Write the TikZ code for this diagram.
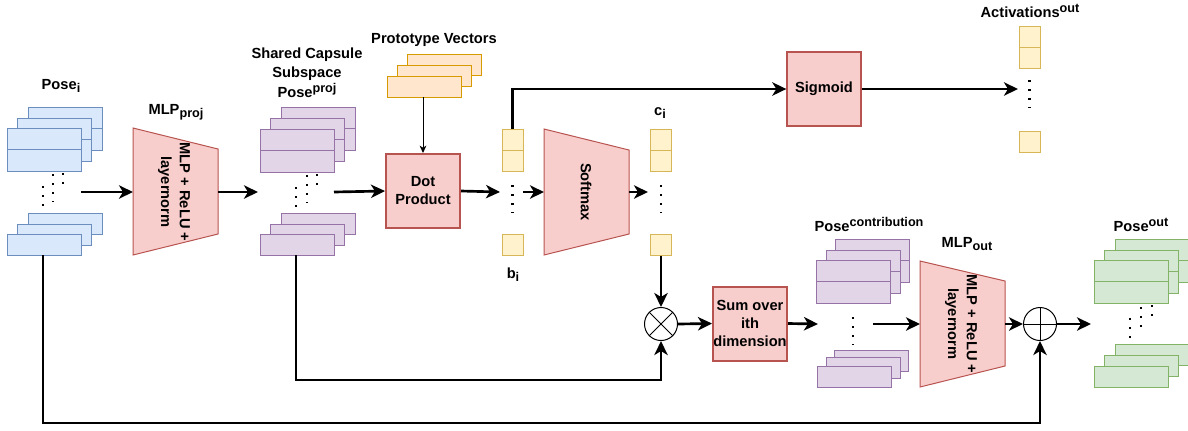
\documentclass[tikz,border=0pt]{standalone}
\usepackage{fontspec}
\setmainfont{Liberation Sans}
\usetikzlibrary{arrows.meta,calc}
\definecolor{bluef}{HTML}{DAE8FC}\definecolor{blued}{HTML}{6C8EBF}
\definecolor{purf}{HTML}{E1D5E7}\definecolor{purd}{HTML}{9673A6}
\definecolor{oraf}{HTML}{FFE6CC}\definecolor{orad}{HTML}{D79B00}
\definecolor{yelf}{HTML}{FFF2CC}\definecolor{yeld}{HTML}{D6B656}
\definecolor{redf}{HTML}{F8CECC}\definecolor{redd}{HTML}{B85450}
\definecolor{grnf}{HTML}{D5E8D4}\definecolor{grnd}{HTML}{82B366}
\newcommand\upx[1]{\raisebox{0.55ex}{\fontsize{9.5}{9.5}\selectfont #1}}
\newcommand\dnx[1]{\raisebox{-0.45ex}{\fontsize{9.5}{9.5}\selectfont #1}}
\newcommand\twocell[3]{\draw[#1] (#2,#3) rectangle ++(74,43); \draw[#1] (#2,#3+21.5) -- ++(74,0);}
\newcommand\onecell[3]{\draw[#1] (#2,#3) rectangle ++(74,21);}
\tikzset{
  lbl/.style={font=\fontsize{11}{13.5}\selectfont\bfseries, inner sep=0pt, align=center},
  conn/.style={line width=2pt, -{Stealth[length=10.5pt,width=10pt,inset=3pt]}},
  thinconn/.style={line width=0.75pt, -{Stealth[length=5.5pt,width=5pt,inset=1.5pt]}},
  bluebox/.style={draw=blued, fill=bluef, line width=0.75pt},
  purbox/.style={draw=purd, fill=purf, line width=0.75pt},
  orabox/.style={draw=orad, fill=oraf, line width=0.75pt},
  grnbox/.style={draw=grnd, fill=grnf, line width=0.75pt},
  trap/.style={draw=redd, fill=redf, line width=0.75pt},
  ycell/.style={draw=yeld, fill=yelf, line width=0.75pt, minimum size=15.75pt, inner sep=0pt},
  opbox/.style={draw=redd, fill=redf, line width=1.5pt, minimum size=55.5pt, inner sep=0pt, lbl},
  sigbox/.style={draw=redd, fill=redf, line width=1pt, minimum size=55.5pt, inner sep=0pt, lbl},
  opcirc/.style={circle, draw=black, fill=white, line width=0.75pt, minimum size=24.75pt, inner sep=0pt},
  dotline/.style={line width=1.6pt, dash pattern=on 1.5pt off 5.25pt},
}
\begin{document}
\begin{tikzpicture}[x=0.75pt,y=-0.75pt]
\useasboundingbox (0,0) rectangle (1188,430);
\clip (0,0) rectangle (1188,430);

% ---------------- Pose_i stack (blue)
\twocell{bluebox}{28}{107}\twocell{bluebox}{17}{118}\twocell{bluebox}{7}{128}
\onecell{bluebox}{28}{213}\onecell{bluebox}{17}{224}\onecell{bluebox}{7}{234}
\draw[dotline] (43,186) -- (43,212);
\draw[dotline] (53,174) -- (53,202);
\draw[dotline] (63,173) -- (63,191);
\node[lbl, anchor=base] (lposei) at (61,89) {Pose\dnx{i}};
\coordinate (posei-out) at (81,192);
\coordinate (posei-bot) at (43,255);

% ---------------- MLP_proj trapezoid
\draw[trap] (133,128) -- (218,149) -- (218,234) -- (133,255) -- cycle;
\node[lbl, rotate=-90, font=\fontsize{11}{14}\selectfont\bfseries] (tmlpp) at (174,192) {MLP + ReLU +\\layernorm};
\node[lbl, anchor=base] (lmlpp) at (176,114) {MLP\dnx{proj}};
\coordinate (mlpp-in) at (133,192);
\coordinate (mlpp-out) at (218,192);

% ---------------- Pose_proj stack (purple)
\twocell{purbox}{281}{107}\twocell{purbox}{270}{118}\twocell{purbox}{260}{129}
\onecell{purbox}{281}{213}\onecell{purbox}{270}{224}\onecell{purbox}{260}{234}
\draw[dotline] (296,187) -- (296,213);
\draw[dotline] (307,175) -- (307,203);
\draw[dotline] (317,174) -- (317,192);
\node[lbl, anchor=base] (lshared) at (307,58) {Shared Capsule};
\node[lbl, anchor=base] (lsub) at (307,77) {Subspace};
\node[lbl, anchor=base] (lposeproj) at (307,97) {Pose\upx{proj}};
\coordinate (pp-in) at (258,192);
\coordinate (pp-out) at (334,192);
\coordinate (pp-bot) at (296,255);

% ---------------- Prototype vectors
\onecell{orabox}{407}{54}\onecell{orabox}{397}{65}\onecell{orabox}{387}{76}
\node[lbl, anchor=base] (lproto) at (434,43) {Prototype Vectors};
\coordinate (proto-bot) at (423,97);

% ---------------- Dot product
\node[opbox] (dot) at (423,191) {Dot\\Product};

% ---------------- b_i column
\node[ycell] (b1) at (512.5,139.5) {};
\node[ycell] (b2) at (512.5,160.5) {};
\node[ycell] (b3) at (512.5,244.5) {};
\draw[dotline] (512.5,185) -- (512.5,213);
\node[lbl, anchor=base] (lbi) at (513,278) {b\dnx{i}};
\coordinate (bi-in) at (500,192);
\coordinate (bi-out) at (523,192);

% ---------------- Softmax
\draw[trap] (544,129) -- (629,150) -- (629,234) -- (544,255) -- cycle;
\node[lbl, rotate=-90] (tsoft) at (586,192) {Softmax};
\coordinate (soft-in) at (544,192);
\coordinate (soft-out) at (629,192);

% ---------------- c_i column
\node[ycell] (c1) at (661,139.5) {};
\node[ycell] (c2) at (661,160.5) {};
\node[ycell] (c3) at (661,244.5) {};
\draw[dotline] (661,185) -- (661,213);
\node[lbl, anchor=base] (lci) at (660,115) {c\dnx{i}};
\coordinate (ci-in) at (648,192);

% ---------------- Sigmoid and activations
\node[sigbox] (sig) at (824,89) {Sigmoid};
\node[ycell] (a1) at (1030,36.5) {};
\node[ycell] (a2) at (1030,57.5) {};
\node[ycell] (a3) at (1030,142) {};
\draw[dotline] (1029.5,80) -- (1029.5,108);
\node[lbl, anchor=base] (lact) at (1030,17) {Activations\upx{out}};
\coordinate (act-in) at (1018,89);

% ---------------- Otimes
\node[opcirc] (ot) at (661,324) {};
\draw[line width=0.75pt] (ot.north east) -- (ot.south west) (ot.north west) -- (ot.south east);

% ---------------- Sum box
\node[opbox] (sum) at (750,323.5) {Sum over\\ith\\dimension};

% ---------------- Pose_contribution stack (purple)
\twocell{purbox}{835}{239}\twocell{purbox}{826}{250}\twocell{purbox}{816}{260}
\onecell{purbox}{834}{350}\onecell{purbox}{826}{357}\onecell{purbox}{817}{366}
\draw[dotline] (853,317) -- (853,345);
\node[lbl, anchor=base] (lposec) at (869,231) {Pose\upx{contribution}};
\coordinate (pc-in) at (818,324);
\coordinate (pc-out) at (873,324);

% ---------------- MLP_out trapezoid
\draw[trap] (920,261) -- (1005,281) -- (1005,366) -- (920,387) -- cycle;
\node[lbl, rotate=-90, font=\fontsize{11}{14}\selectfont\bfseries] (tmlpo) at (961,324) {MLP + ReLU +\\layernorm};
\node[lbl, anchor=base] (lmlpo) at (967,247) {MLP\dnx{out}};
\coordinate (mlpo-in) at (920,324);
\coordinate (mlpo-out) at (1005,324);

% ---------------- Oplus
\node[opcirc] (op) at (1040,324) {};
\draw[line width=0.75pt] (op.north) -- (op.south) (op.west) -- (op.east);

% ---------------- Pose_out stack (green)
\twocell{grnbox}{1115}{239}\twocell{grnbox}{1104}{250}\twocell{grnbox}{1094}{260}
\onecell{grnbox}{1115}{344}\onecell{grnbox}{1104}{355}\onecell{grnbox}{1094}{366}
\draw[dotline] (1130,318) -- (1130,344);
\draw[dotline] (1141,307) -- (1141,334);
\draw[dotline] (1152,305) -- (1152,323);
\node[lbl, anchor=base] (lposeo) at (1141,231) {Pose\upx{out}};
\coordinate (po-in) at (1091,324);

% ---------------- Connectors
\draw[conn] (posei-out) -- (mlpp-in);
\draw[conn] (mlpp-out) -- (pp-in);
\draw[conn] (pp-out) -- (dot.west);
\draw[thinconn] (proto-bot) -- (dot.north);
\draw[conn] (dot.east) -- (bi-in);
\draw[conn] (bi-out) -- (soft-in);
\draw[conn] (soft-out) -- (ci-in);
\draw[conn] (b1.north) |- (sig.west);
\draw[conn] (sig.east) -- (act-in);
\draw[conn] (c3.south) -- (ot.north);
\draw[conn] (pp-bot) -- ++(0,125) -| (ot.south);
\draw[conn] (ot.east) -- (sum.west);
\draw[conn] (sum.east) -- (pc-in);
\draw[conn] (pc-out) -- (mlpo-in);
\draw[conn] (mlpo-out) -- (op.west);
\draw[conn] (op.east) -- (po-in);
\draw[conn] (posei-bot) -- ++(0,168) -| (op.south);
\end{tikzpicture}
\end{document}
